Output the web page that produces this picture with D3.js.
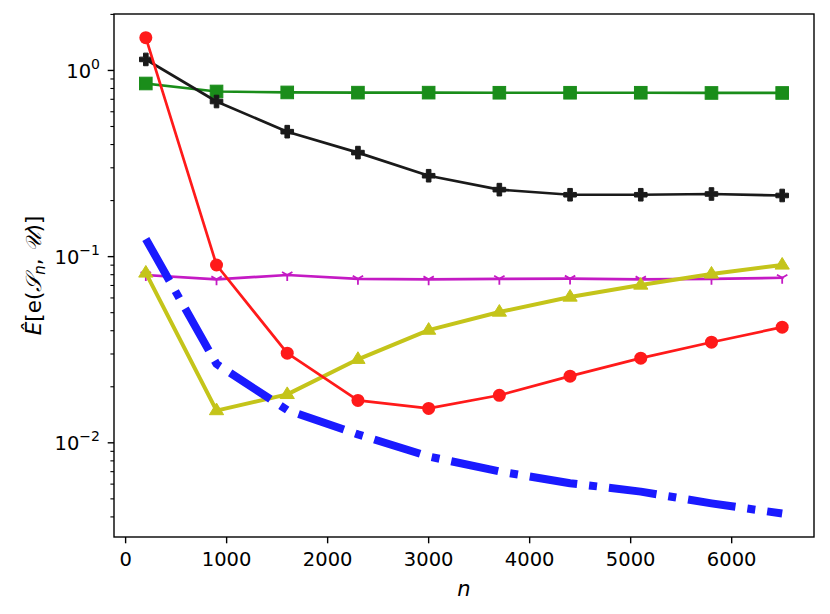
<!DOCTYPE html>
<html><head><meta charset="utf-8">
<script src="https://cdn.jsdelivr.net/npm/d3@7"></script>
<style>body{margin:0;background:#fff}svg{display:block}text{font-family:"DejaVu Sans",sans-serif}</style>
</head><body>
<svg id="c" width="830" height="614"></svg>
<script>
const nValues = [200, 900, 1600, 2300, 3000, 3700, 4400, 5100, 5800, 6500];
const greenSquare = [0.851, 0.771, 0.762, 0.760, 0.760, 0.759, 0.759, 0.759, 0.757, 0.757];
const blackPlus = [1.146, 0.681, 0.469, 0.362, 0.272, 0.229, 0.215, 0.215, 0.217, 0.213];
const magentaTri = [0.0797, 0.0755, 0.0797, 0.0760, 0.0755, 0.0760, 0.0762, 0.0755, 0.0760, 0.0770];
const yellowTriangle = [0.0817, 0.0149, 0.0182, 0.0281, 0.0403, 0.0504, 0.0607, 0.0704, 0.0807, 0.0902];
const redCircle = [1.50, 0.0902, 0.0303, 0.0169, 0.0153, 0.0180, 0.0228, 0.0285, 0.0347, 0.0418];
const blueBound = [0.1245, 0.0265, 0.0150, 0.0111, 0.00845, 0.00702, 0.00607, 0.00547, 0.00473, 0.00417];
const xTicks = [0, 1000, 2000, 3000, 4000, 5000, 6000];
const yMajorExp = [-2, -1, 0];

const svg = d3.select("#c");
const L = 114, R = 814, T = 14, B = 537;
const x = d3.scaleLinear().domain([-115, 6815]).range([L, R]);
const y = d3.scaleLog().domain([0.00312, 2.01]).range([B, T]);

const plot = svg.append("g");
svg.append("clipPath").attr("id", "cp").append("rect")
  .attr("x", L).attr("y", T).attr("width", R - L).attr("height", B - T);
const g = plot.append("g").attr("clip-path", "url(#cp)");

const line = d3.line().x((d, i) => x(nValues[i])).y(d => y(d));

function series(vals, color, lw, dash) {
  const p = g.append("path").datum(vals).attr("d", line).attr("fill", "none")
    .attr("stroke", color).attr("stroke-width", lw).attr("stroke-linejoin", "round");
  if (dash) p.attr("stroke-dasharray", dash).attr("stroke-linecap", "butt");
  else p.attr("stroke-linecap", "square");
  return p;
}

// green squares
series(greenSquare, "#1a8d1a", 2.7);
g.selectAll(".sq").data(greenSquare).join("rect")
  .attr("x", (d, i) => x(nValues[i]) - 6.3).attr("y", d => y(d) - 6.3)
  .attr("width", 12.6).attr("height", 12.6).attr("fill", "#1a8d1a").attr("stroke", "#1a8d1a").attr("stroke-width", 1);

// black plus (filled)
series(blackPlus, "#1a1a1a", 2.7);
const plusPath = (cx, cy) => {
  const a = 6.3, w = 2.3;
  return `M${cx - w},${cy - a}H${cx + w}V${cy - w}H${cx + a}V${cy + w}H${cx + w}V${cy + a}H${cx - w}V${cy + w}H${cx - a}V${cy - w}H${cx - w}Z`;
};
g.selectAll(".pl").data(blackPlus).join("path")
  .attr("d", (d, i) => plusPath(x(nValues[i]), y(d))).attr("fill", "#1a1a1a").attr("stroke", "#1a1a1a").attr("stroke-width", 1);

// magenta tri_down
series(magentaTri, "#c41ac4", 2.7);
const triDown = (cx, cy) => {
  const a = 6;
  return `M${cx},${cy}V${cy + a}M${cx},${cy}L${cx - a * 0.866},${cy - a * 0.5}M${cx},${cy}L${cx + a * 0.866},${cy - a * 0.5}`;
};
g.selectAll(".tr").data(magentaTri).join("path")
  .attr("d", (d, i) => triDown(x(nValues[i]), y(d))).attr("fill", "none").attr("stroke", "#c41ac4").attr("stroke-width", 1.8);

// yellow triangles
series(yellowTriangle, "#c4c41a", 4);
const triUp = (cx, cy) => {
  const s = 7.5;
  return `M${cx},${cy - s}L${cx + s * 0.95},${cy + s * 0.55}L${cx - s * 0.95},${cy + s * 0.55}Z`;
};
g.selectAll(".tu").data(yellowTriangle).join("path")
  .attr("d", (d, i) => triUp(x(nValues[i]), y(d))).attr("fill", "#c4c41a").attr("stroke", "#c4c41a").attr("stroke-width", 1);

// red circles
series(redCircle, "#ff1a1a", 2.7);
g.selectAll(".ci").data(redCircle).join("circle")
  .attr("cx", (d, i) => x(nValues[i])).attr("cy", d => y(d)).attr("r", 6.5).attr("fill", "#ff1a1a");

// blue dash-dot
series(blueBound, "#1a1aff", 8, "48,12,8,12");

// axes frame
svg.append("rect").attr("x", L).attr("y", T).attr("width", R - L).attr("height", B - T)
  .attr("fill", "none").attr("stroke", "#000").attr("stroke-width", 1.4);

// x axis
const xa = svg.append("g");
xTicks.forEach(t => {
  xa.append("line").attr("x1", x(t)).attr("x2", x(t)).attr("y1", B).attr("y2", B + 6.3).attr("stroke", "#000").attr("stroke-width", 1.4);
  xa.append("text").attr("x", x(t)).attr("y", B + 28.5).attr("text-anchor", "middle").attr("font-size", 19.5).text(t);
});
svg.append("text").attr("x", (L + R) / 2).attr("y", 596).attr("text-anchor", "middle")
  .attr("font-size", 21).attr("font-style", "italic").text("n");

// y axis
const ya = svg.append("g");
const [ymin, ymax] = y.domain();
for (let e = -3; e <= 0; e++) {
  for (let m = 1; m <= 9; m++) {
    const v = m * Math.pow(10, e);
    if (v < ymin || v > ymax) continue;
    const major = m === 1;
    ya.append("line").attr("x1", L).attr("x2", L - (major ? 6.3 : 3.6)).attr("y1", y(v)).attr("y2", y(v))
      .attr("stroke", "#000").attr("stroke-width", major ? 1.4 : 1.1);
  }
}
yMajorExp.forEach(e => {
  const t = ya.append("text").attr("x", L - 14).attr("y", y(Math.pow(10, e)) + 7.3).attr("text-anchor", "end").attr("font-size", 19.5);
  t.append("tspan").text("10");
  t.append("tspan").attr("dy", -9).attr("font-size", 14).text(e === 0 ? "0" : "\u2212" + (-e));
});

// y label
const yl = svg.append("text").attr("transform", `translate(41,${(T + B) / 2}) rotate(-90)`)
  .attr("text-anchor", "middle").attr("font-size", 21.5);
yl.append("tspan").attr("font-style", "italic").text("\u00CA");
yl.append("tspan").text("[e(");
yl.append("tspan").attr("font-style", "italic").text("\uD835\uDCAE");
yl.append("tspan").attr("font-style", "italic").attr("font-size", 15).attr("dy", 4).text("n");
yl.append("tspan").attr("dy", -4).text(", ");
yl.append("tspan").attr("font-style", "italic").text("\uD835\uDCB0");
yl.append("tspan").text(")]");
</script>
</body></html>
